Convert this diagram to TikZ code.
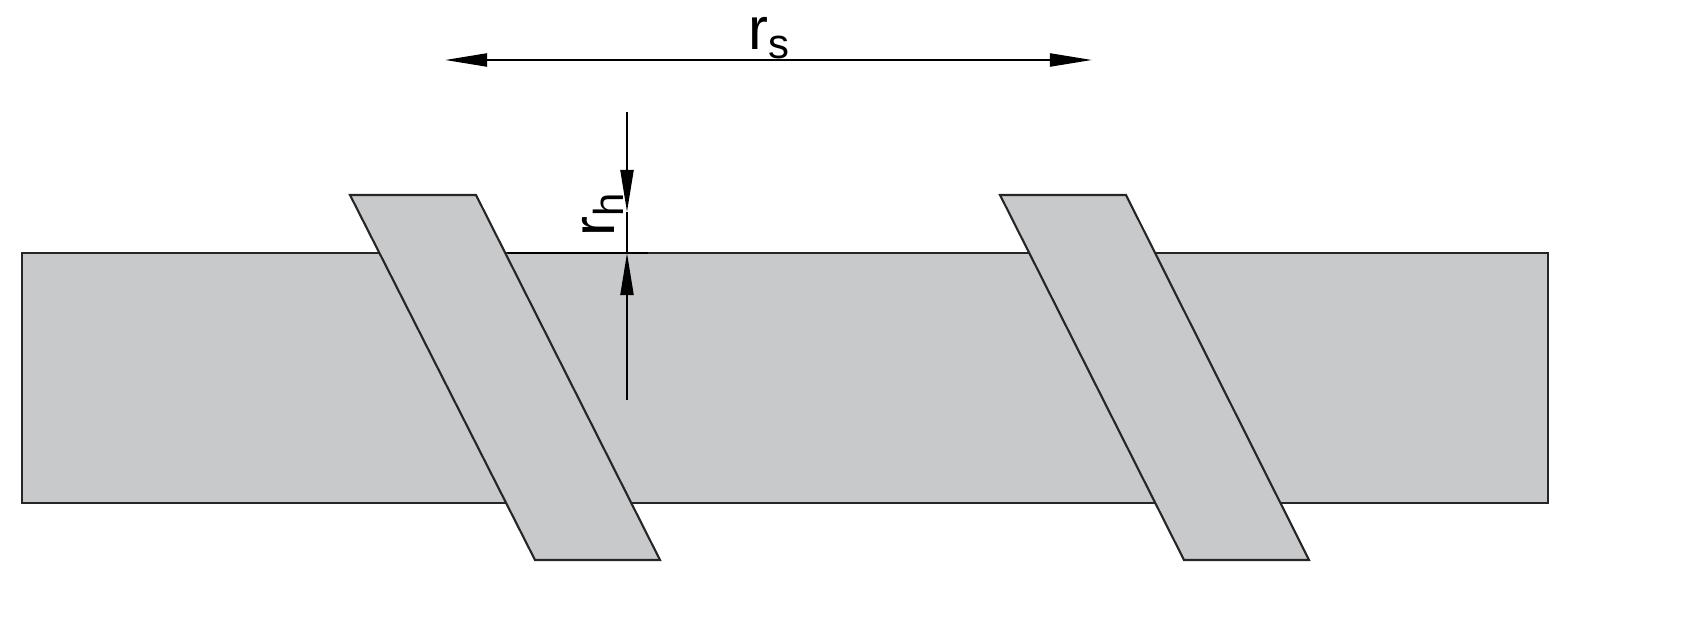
\documentclass[tikz,border=0pt]{standalone}
\usepackage{fontspec}
\setmainfont{Liberation Sans}
\usetikzlibrary{arrows.meta}
\definecolor{steel}{RGB}{200,201,203}
\begin{document}
\begin{tikzpicture}[x=0.01cm,y=-0.01cm,
  body/.style={fill=steel,draw=black!85,line width=0.6pt},
  dim/.style={line width=0.6pt,-{Triangle[length=0.42cm,width=0.13cm]}},
  lbl/.style={font=\fontsize{17}{19}\selectfont,inner sep=0pt}]
\useasboundingbox (0,0) rectangle (1691,631);
\draw[body] (22,253) rectangle (1548,503);
\draw[body] (350,195) -- (476,195) -- (660,560) -- (535,560) -- cycle;
\draw[body] (1000,195) -- (1126,195) -- (1309,560) -- (1184,560) -- cycle;
\draw[line width=0.6pt] (508,253) -- (648,253);
\coordinate (mid) at (768,60);
\coordinate (L) at (445,60);
\coordinate (R) at (1092,60);
\draw[dim] (mid) -- (L);
\draw[dim] (mid) -- (R);
\node[lbl] (rs) at (770,38) {r\textsubscript{s}};
\coordinate (t1) at (627,112);
\coordinate (a1) at (627,212);
\coordinate (b1) at (627,400);
\coordinate (a2) at (627,253);
\draw[dim] (t1) -- (a1);
\draw[dim] (b1) -- (a2);
\draw[line width=0.6pt] (a1) -- (a2);
\node[lbl,rotate=90] (rh) at (603,214) {r\textsubscript{h}};
\end{tikzpicture}
\end{document}
